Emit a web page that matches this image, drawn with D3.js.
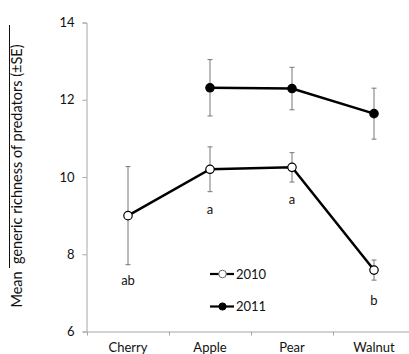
<!DOCTYPE html>
<html>
<head>
<meta charset="utf-8">
<script src="https://cdn.jsdelivr.net/npm/d3@7"></script>
<style>
  html, body { margin: 0; padding: 0; background: #fff; }
  svg { display: block; }
  text { font-family: Lato, "Open Sans", sans-serif; fill: #111; }
</style>
</head>
<body>
<svg id="chart" width="409" height="354"></svg>
<script>
const categories = ["Cherry", "Apple", "Pear", "Walnut"];
const yTicks = [6, 8, 10, 12, 14];
const mean2010 = [9.0, 10.2, 10.25, 7.59];
const se2010 = [1.27, 0.58, 0.38, 0.26];
const mean2011 = [null, 12.31, 12.29, 11.64];
const se2011 = [null, 0.73, 0.55, 0.66];
const letters2010 = ["ab", "a", "a", "b"];
const seriesNames = ["2010", "2011"];

const svg = d3.select("#chart");
const x = d3.scaleBand().domain(categories).range([87, 415]).padding(0);
const y = d3.scaleLinear().domain([6, 14]).range([331.5, 22.5]);
const cx = c => x(c) + x.bandwidth() / 2;

const axisColor = "#a6a6a6";
const fs = "13px";

// Y axis
const yAxis = svg.append("g").attr("transform", "translate(86.5,0)")
  .call(d3.axisLeft(y).tickValues(yTicks).tickSize(4).tickPadding(8).tickFormat(d3.format("d")));
yAxis.select(".domain").attr("stroke", axisColor);
yAxis.selectAll(".tick line").attr("stroke", axisColor);
yAxis.selectAll(".tick text").style("font-size", fs).style("font-family", "Lato, sans-serif").attr("fill", "#111");

// X axis
const xAxis = svg.append("g").attr("transform", "translate(0,331.5)")
  .call(d3.axisBottom(x).tickSize(0).tickPadding(11));
xAxis.select(".domain").attr("stroke", axisColor);
xAxis.selectAll(".tick text").style("font-size", fs).style("font-family", "Lato, sans-serif").attr("fill", "#111");
// boundary tick marks below axis
svg.append("g").selectAll("line").data(categories).join("line")
  .attr("x1", d => x(d) + 0.5).attr("x2", d => x(d) + 0.5)
  .attr("y1", 331.5).attr("y2", 335.5).attr("stroke", axisColor);

// Y label with overline
const ylab = svg.append("text")
  .attr("transform", "translate(22,176) rotate(-90)")
  .attr("text-anchor", "middle")
  .style("font-size", "14.5px")
  .style("white-space", "pre")
  .text("Mean  generic richness of predators (±SE)");
svg.append("line").attr("x1", 9.5).attr("x2", 9.5).attr("y1", 25).attr("y2", 268)
  .attr("stroke", "#111").attr("stroke-width", 1);

function drawSeries(means, ses, filled) {
  const pts = categories.map((c, i) => ({c, m: means[i], s: ses[i]})).filter(d => d.m != null);
  const g = svg.append("g");
  // error bars
  g.selectAll("line.eb").data(pts).join("line").attr("class", "eb")
    .attr("x1", d => cx(d.c)).attr("x2", d => cx(d.c))
    .attr("y1", d => y(d.m + d.s)).attr("y2", d => y(d.m - d.s))
    .attr("stroke", "#777").attr("stroke-width", 1);
  [1, -1].forEach((sgn, k) => {
    g.selectAll("line.cap" + k).data(pts).join("line").attr("class", "cap" + k)
      .attr("x1", d => cx(d.c) - 2.5).attr("x2", d => cx(d.c) + 2.5)
      .attr("y1", d => y(d.m + sgn * d.s))
      .attr("y2", d => y(d.m + sgn * d.s))
      .attr("stroke", "#777").attr("stroke-width", 1);
  });
  g.append("path").datum(pts)
    .attr("d", d3.line().x(d => cx(d.c)).y(d => y(d.m)))
    .attr("fill", "none").attr("stroke", "#000").attr("stroke-width", 2.5);
  g.selectAll("circle").data(pts).join("circle")
    .attr("cx", d => cx(d.c)).attr("cy", d => y(d.m)).attr("r", 4.2)
    .attr("fill", filled ? "#000" : "#fff").attr("stroke", "#000").attr("stroke-width", 1.2);
}
drawSeries(mean2011, se2011, true);
drawSeries(mean2010, se2010, false);

// significance letters (baseline offsets below the lower error bar end)
const letterOffsets = [20, 22.5, 22, 25];
svg.append("g").selectAll("text").data(categories).join("text")
  .attr("x", d => cx(d)).attr("y", (d, i) => y(mean2010[i] - se2010[i]) + letterOffsets[i])
  .attr("text-anchor", "middle").style("font-size", fs)
  .text((d, i) => letters2010[i]);

// legend
const leg = svg.append("g");
seriesNames.forEach((name, i) => {
  const ly = 274 + i * 32.5;
  leg.append("line").attr("x1", 210).attr("x2", 234).attr("y1", ly).attr("y2", ly)
    .attr("stroke", "#000").attr("stroke-width", 2.2);
  leg.append("circle").attr("cx", 222.5).attr("cy", ly).attr("r", i === 0 ? 3.8 : 3.6)
    .attr("fill", i === 0 ? "#fff" : "#000").attr("stroke", i === 0 ? "#666" : "#000").attr("stroke-width", 1);
  leg.append("text").attr("x", 236).attr("y", ly + 4.5).style("font-size", fs).text(name);
});
</script>
</body>
</html>
